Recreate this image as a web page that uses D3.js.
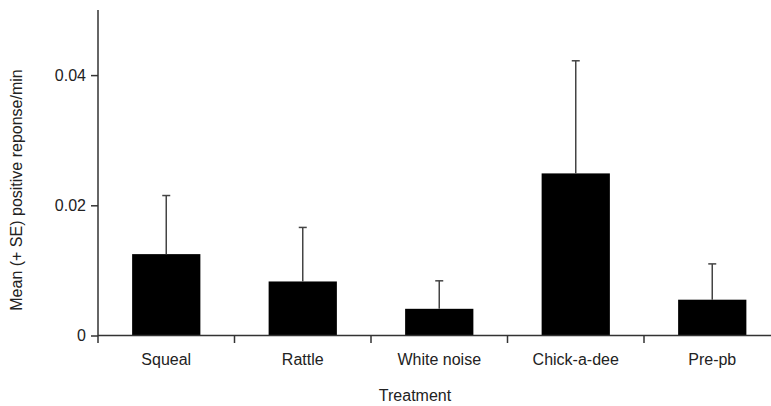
<!DOCTYPE html>
<html>
<head>
<meta charset="utf-8">
<script src="https://cdn.jsdelivr.net/npm/d3@7"></script>
<style>
  html, body { margin: 0; padding: 0; background: #fff; }
  svg { display: block; font-family: "Liberation Sans", Arial, sans-serif; }
</style>
</head>
<body>
<svg id="chart" width="771" height="406"></svg>
<script>
// Treatments, mean responses and standard errors
const categories = ["Squeal", "Rattle", "White noise", "Chick-a-dee", "Pre-pb"];
const means = [0.0125, 0.0083, 0.0041, 0.0249, 0.0055];
const seValues = [0.0090, 0.0083, 0.0043, 0.0173, 0.0055];
const yTickValues = [0, 0.02, 0.04];
const yTickLabels = ["0", "0.02", "0.04"];

const svg = d3.select("#chart");
const plotLeft = 98, plotTop = 10, baseY = 335.5;
const step = 136.5;

const x = d3.scaleBand()
  .domain(categories)
  .range([plotLeft, plotLeft + step * categories.length])
  .paddingInner(0.5)
  .paddingOuter(0.25);

const y = d3.scaleLinear().domain([0, 0.05]).range([baseY, plotTop]);

const axisColor = "#333";
const textColor = "#222";

// Bars
svg.append("g").selectAll("rect")
  .data(categories)
  .join("rect")
  .attr("x", d => x(d))
  .attr("y", (d, i) => y(means[i]))
  .attr("width", x.bandwidth())
  .attr("height", (d, i) => y(0) - y(means[i]))
  .attr("fill", "#000");

// Upper error bars
const err = svg.append("g").attr("stroke", "#444").attr("stroke-width", 1.5);
categories.forEach((c, i) => {
  const cx = x(c) + x.bandwidth() / 2;
  err.append("line")
    .attr("x1", cx).attr("x2", cx)
    .attr("y1", y(means[i])).attr("y2", y(means[i] + seValues[i]));
  err.append("line")
    .attr("x1", cx - 4).attr("x2", cx + 4)
    .attr("y1", y(means[i] + seValues[i])).attr("y2", y(means[i] + seValues[i]));
});

// Y axis
const yAxis = d3.axisLeft(y)
  .tickValues(yTickValues)
  .tickFormat((d, i) => yTickLabels[i])
  .tickSize(7)
  .tickPadding(5);
const gy = svg.append("g").attr("transform", `translate(${plotLeft},0)`).call(yAxis);
gy.select(".domain").remove();
gy.selectAll(".tick line").attr("stroke", axisColor).attr("stroke-width", 1.5);
gy.selectAll(".tick text")
  .attr("fill", textColor)
  .style("font-size", "16px")
  .style("font-family", "'Liberation Sans', Arial, sans-serif");

svg.append("line")
  .attr("x1", plotLeft).attr("x2", plotLeft)
  .attr("y1", plotTop).attr("y2", baseY + 7.5)
  .attr("stroke", axisColor).attr("stroke-width", 1.5);

// X axis line and separators between treatments
svg.append("line")
  .attr("x1", plotLeft).attr("x2", 771)
  .attr("y1", baseY).attr("y2", baseY)
  .attr("stroke", axisColor).attr("stroke-width", 1.5);

const sepG = svg.append("g");
categories.slice(1).forEach(c => {
  const sx = x(c) - x.step() * 0.25;
  sepG.append("line")
    .attr("x1", sx).attr("x2", sx)
    .attr("y1", baseY).attr("y2", baseY + 7.5)
    .attr("stroke", axisColor).attr("stroke-width", 1.5);
});

// Category labels
svg.append("g").selectAll("text")
  .data(categories)
  .join("text")
  .attr("x", d => x(d) + x.bandwidth() / 2)
  .attr("y", 365)
  .attr("text-anchor", "middle")
  .attr("fill", textColor)
  .style("font-size", "16px")
  .text(d => d);

// Axis titles
svg.append("text")
  .attr("x", 415).attr("y", 401)
  .attr("text-anchor", "middle")
  .attr("fill", textColor)
  .style("font-size", "16px")
  .text("Treatment");

svg.append("text")
  .attr("transform", "translate(22,190) rotate(-90)")
  .attr("text-anchor", "middle")
  .attr("fill", textColor)
  .style("font-size", "16px")
  .text("Mean (+ SE) positive reponse/min");
</script>
</body>
</html>
